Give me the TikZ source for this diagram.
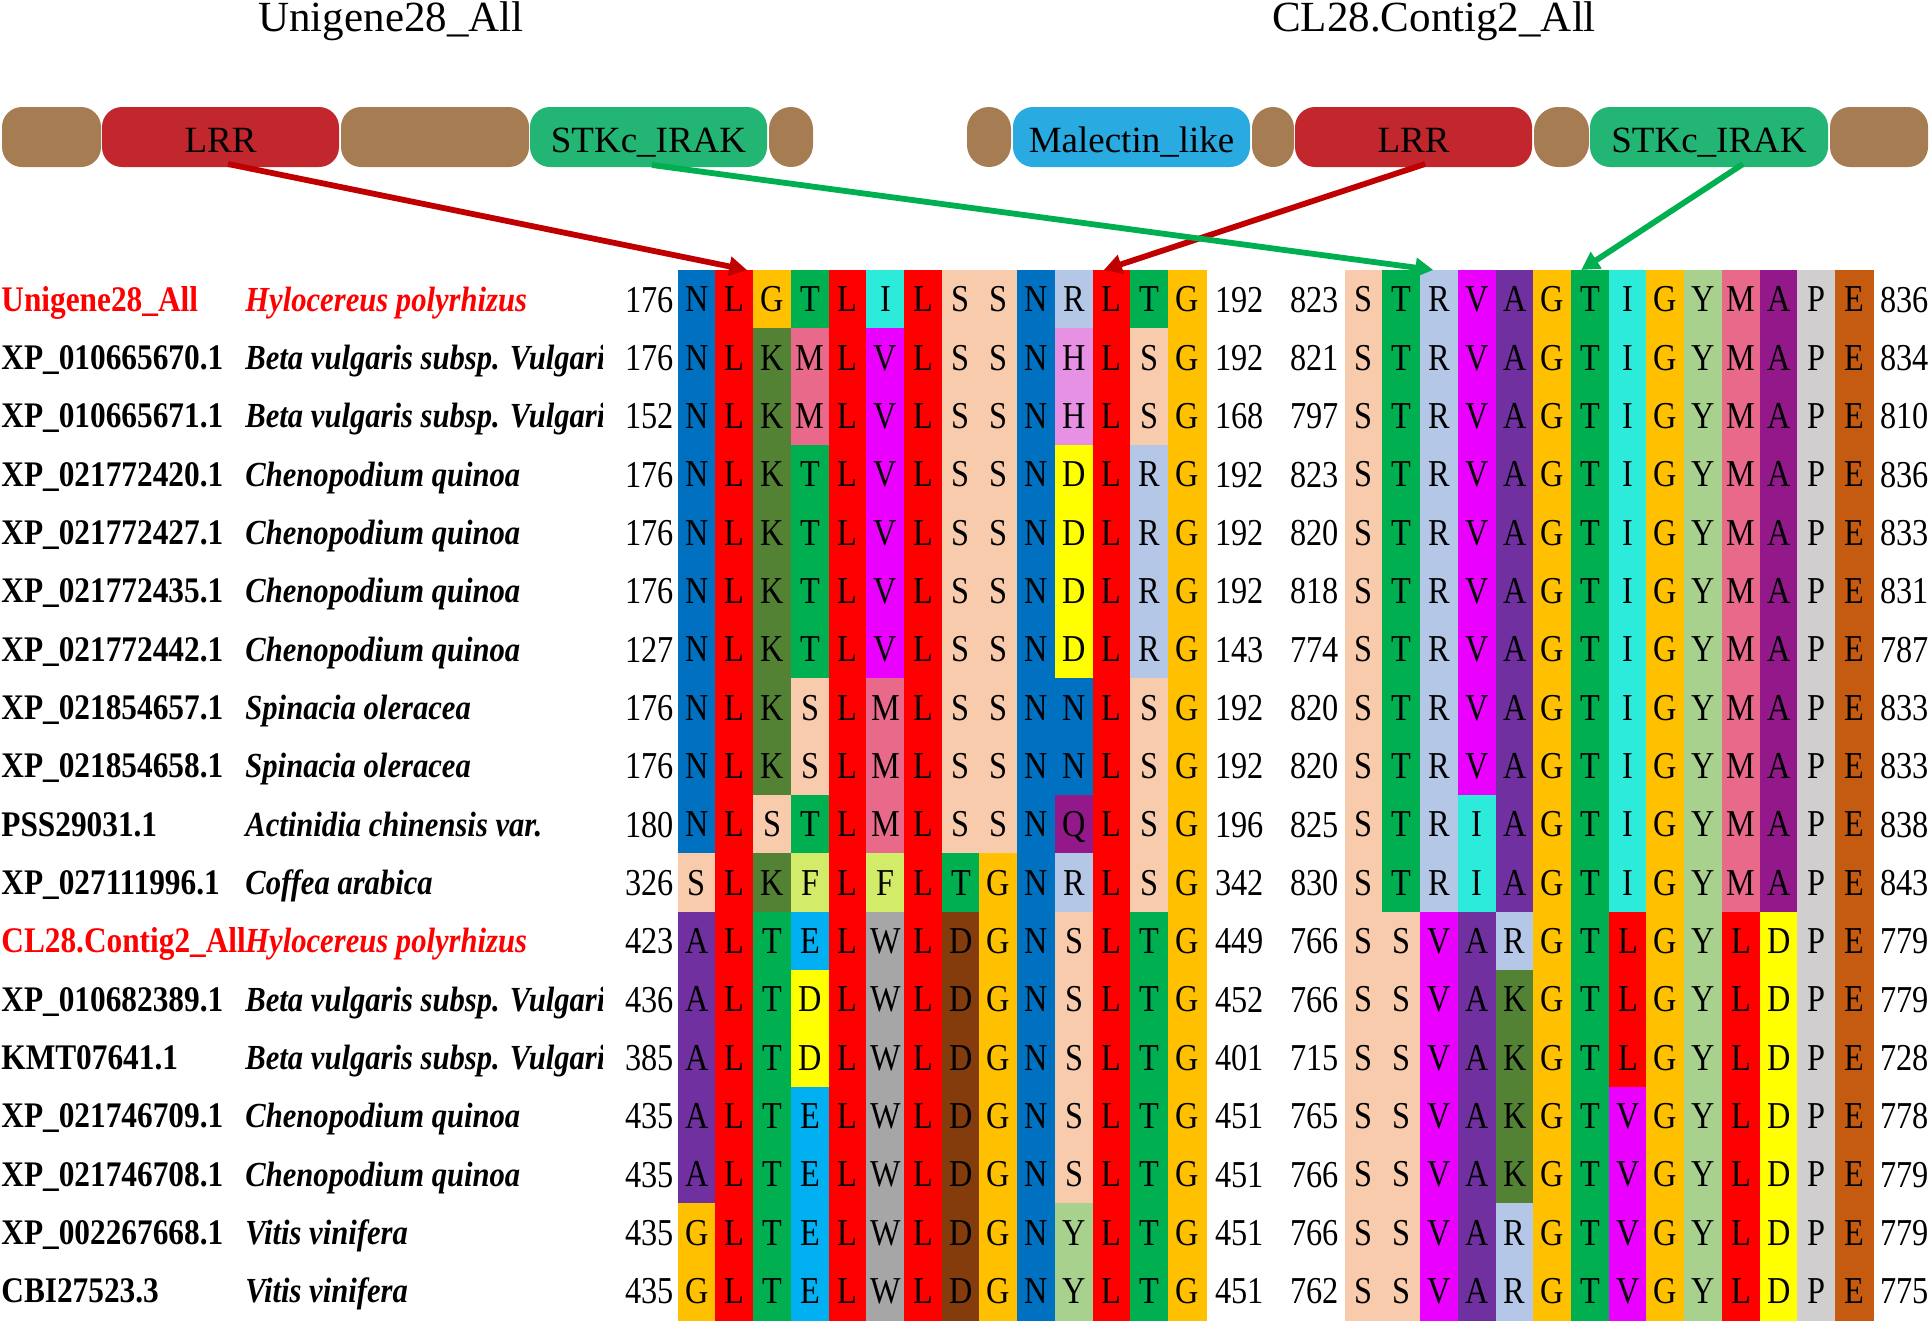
\documentclass[tikz,border=0pt]{standalone}
\usepackage{fontspec}
\setmainfont{Liberation Serif}
\newfontfamily\alnfont[FakeStretch=0.85]{Liberation Serif}
\newfontfamily\labfont[FakeStretch=0.87]{Liberation Serif}
\usetikzlibrary{arrows.meta,calc}

\definecolor{cBrown}{HTML}{A67C52}
\definecolor{cLRR}{HTML}{C1272D}
\definecolor{cSTK}{HTML}{22B573}
\definecolor{cMal}{HTML}{29ABE2}
\definecolor{cArrR}{HTML}{C00000}
\definecolor{cArrG}{HTML}{00B050}
\definecolor{cTxtR}{HTML}{FF0000}

\definecolor{cN}{HTML}{0070C0}
\definecolor{cL}{HTML}{FF0000}
\definecolor{cG}{HTML}{FFC000}
\definecolor{cT}{HTML}{00B050}
\definecolor{cI}{HTML}{2CEBDB}
\definecolor{cS}{HTML}{F8CBAD}
\definecolor{cR}{HTML}{B4C7E7}
\definecolor{cK}{HTML}{548235}
\definecolor{cM}{HTML}{E9698B}
\definecolor{cV}{HTML}{EA00FF}
\definecolor{cH}{HTML}{E691E3}
\definecolor{cD}{HTML}{FFFF00}
\definecolor{cDb}{HTML}{843C0C}
\definecolor{cQ}{HTML}{93198B}
\definecolor{cA}{HTML}{7030A0}
\definecolor{cAm}{HTML}{93198B}
\definecolor{cF}{HTML}{D2EC6A}
\definecolor{cE}{HTML}{00B0F0}
\definecolor{cW}{HTML}{A6A6A6}
\definecolor{cY}{HTML}{A9D18E}
\definecolor{cP}{HTML}{D0CECE}
\definecolor{cEo}{HTML}{C55A11}

\newcommand\alnrow[4]{%
  \foreach \res/\col [count=\ci] in {#4}{%
    \node[cell, fill=\col, draw=\col] (#1-#3-\ci) at ({#2+(\ci-1)*37.72},{270+(#3-1)*58.35}) {\res};
  }%
}
\newcommand\numrow[5]{%
  \pgfmathsetmacro\rowbase{312+(#1-1)*58.35}
  \node[num, anchor=base east] (ns-#1) at (674,\rowbase) {#2};
  \node[num, anchor=base west] (ne-#1) at (1215,\rowbase) {#3};
  \node[num, anchor=base east] (ms-#1) at (1339,\rowbase) {#4};
  \node[num, anchor=base west] (me-#1) at (1880,\rowbase) {#5};
}
\newcommand\labrow[4]{%
  \pgfmathsetmacro\rowbase{311+(#1-1)*58.35}
  \node[acc, text=#2] (acc-#1) at (1,\rowbase) {#3};
  \node[sp, text=#2] (sp-#1) at (245,\rowbase) {#4};
}

\begin{document}
\begin{tikzpicture}[x=0.5pt,y=-0.5pt,
  cell/.style={anchor=north west, minimum width=18.86pt, minimum height=29.18pt,
    inner sep=0pt, outer sep=0pt, line width=0.3pt, text height=14.5pt, text depth=2pt,
    font=\alnfont\fontsize{19}{19}\selectfont},
  num/.style={inner sep=0pt, font=\alnfont\fontsize{19}{19}\selectfont},
  acc/.style={anchor=base west, inner sep=0pt, font=\labfont\bfseries\fontsize{18}{18}\selectfont},
  sp/.style={anchor=base west, inner sep=0pt, font=\labfont\bfseries\itshape\fontsize{17.6}{18}\selectfont},
  dom/.style={rounded corners=10pt, minimum height=30pt, inner sep=0pt, outer sep=0pt,
    text height=15pt, text depth=0pt, font=\fontsize{18.5}{18.5}\selectfont},
  ttl/.style={anchor=base, inner sep=0pt, font=\fontsize{21.5}{21.5}\selectfont},
  arr/.style={line width=2.9pt, -{Triangle[length=9pt,width=9.5pt]}}]
\useasboundingbox (0,0) rectangle (1930,1324);

% titles
\node[ttl] (t1) at (391,31) {Unigene28\_All};
\node[ttl] (t2) at (1434,31) {CL28.Contig2\_All};

% domain bars
\node[dom, fill=cBrown, minimum width=49.5pt] (lb1) at (51.5,137) {};
\node[dom, fill=cLRR, minimum width=118.5pt] (lLRR) at (220.5,137) {LRR};
\node[dom, fill=cBrown, minimum width=94pt] (lb2) at (435,137) {};
\node[dom, fill=cSTK, minimum width=118.5pt] (lSTK) at (648.5,137) {STKc\_IRAK};
\node[dom, fill=cBrown, minimum width=22pt, rounded corners=11pt] (lb3) at (791,137) {};

\node[dom, fill=cBrown, minimum width=22pt, rounded corners=11pt] (rb1) at (989,137) {};
\node[dom, fill=cMal, minimum width=118.5pt] (rMal) at (1131.5,137) {Malectin\_like};
\node[dom, fill=cBrown, minimum width=21pt, rounded corners=10.5pt] (rb2) at (1273,137) {};
\node[dom, fill=cLRR, minimum width=118.5pt] (rLRR) at (1413.5,137) {LRR};
\node[dom, fill=cBrown, minimum width=27.5pt, rounded corners=12pt] (rb3) at (1561.5,137) {};
\node[dom, fill=cSTK, minimum width=119pt] (rSTK) at (1709,137) {STKc\_IRAK};
\node[dom, fill=cBrown, minimum width=49pt] (rb4) at (1879,137) {};

% left alignment block
\alnrow{L}{678}{1}{N/cN,L/cL,G/cG,T/cT,L/cL,I/cI,L/cL,S/cS,S/cS,N/cN,R/cR,L/cL,T/cT,G/cG}
\alnrow{L}{678}{2}{N/cN,L/cL,K/cK,M/cM,L/cL,V/cV,L/cL,S/cS,S/cS,N/cN,H/cH,L/cL,S/cS,G/cG}
\alnrow{L}{678}{3}{N/cN,L/cL,K/cK,M/cM,L/cL,V/cV,L/cL,S/cS,S/cS,N/cN,H/cH,L/cL,S/cS,G/cG}
\alnrow{L}{678}{4}{N/cN,L/cL,K/cK,T/cT,L/cL,V/cV,L/cL,S/cS,S/cS,N/cN,D/cD,L/cL,R/cR,G/cG}
\alnrow{L}{678}{5}{N/cN,L/cL,K/cK,T/cT,L/cL,V/cV,L/cL,S/cS,S/cS,N/cN,D/cD,L/cL,R/cR,G/cG}
\alnrow{L}{678}{6}{N/cN,L/cL,K/cK,T/cT,L/cL,V/cV,L/cL,S/cS,S/cS,N/cN,D/cD,L/cL,R/cR,G/cG}
\alnrow{L}{678}{7}{N/cN,L/cL,K/cK,T/cT,L/cL,V/cV,L/cL,S/cS,S/cS,N/cN,D/cD,L/cL,R/cR,G/cG}
\alnrow{L}{678}{8}{N/cN,L/cL,K/cK,S/cS,L/cL,M/cM,L/cL,S/cS,S/cS,N/cN,N/cN,L/cL,S/cS,G/cG}
\alnrow{L}{678}{9}{N/cN,L/cL,K/cK,S/cS,L/cL,M/cM,L/cL,S/cS,S/cS,N/cN,N/cN,L/cL,S/cS,G/cG}
\alnrow{L}{678}{10}{N/cN,L/cL,S/cS,T/cT,L/cL,M/cM,L/cL,S/cS,S/cS,N/cN,Q/cQ,L/cL,S/cS,G/cG}
\alnrow{L}{678}{11}{S/cS,L/cL,K/cK,F/cF,L/cL,F/cF,L/cL,T/cT,G/cG,N/cN,R/cR,L/cL,S/cS,G/cG}
\alnrow{L}{678}{12}{A/cA,L/cL,T/cT,E/cE,L/cL,W/cW,L/cL,D/cDb,G/cG,N/cN,S/cS,L/cL,T/cT,G/cG}
\alnrow{L}{678}{13}{A/cA,L/cL,T/cT,D/cD,L/cL,W/cW,L/cL,D/cDb,G/cG,N/cN,S/cS,L/cL,T/cT,G/cG}
\alnrow{L}{678}{14}{A/cA,L/cL,T/cT,D/cD,L/cL,W/cW,L/cL,D/cDb,G/cG,N/cN,S/cS,L/cL,T/cT,G/cG}
\alnrow{L}{678}{15}{A/cA,L/cL,T/cT,E/cE,L/cL,W/cW,L/cL,D/cDb,G/cG,N/cN,S/cS,L/cL,T/cT,G/cG}
\alnrow{L}{678}{16}{A/cA,L/cL,T/cT,E/cE,L/cL,W/cW,L/cL,D/cDb,G/cG,N/cN,S/cS,L/cL,T/cT,G/cG}
\alnrow{L}{678}{17}{G/cG,L/cL,T/cT,E/cE,L/cL,W/cW,L/cL,D/cDb,G/cG,N/cN,Y/cY,L/cL,T/cT,G/cG}
\alnrow{L}{678}{18}{G/cG,L/cL,T/cT,E/cE,L/cL,W/cW,L/cL,D/cDb,G/cG,N/cN,Y/cY,L/cL,T/cT,G/cG}

% right alignment block
\foreach \r in {1,...,9}{
  \alnrow{R}{1345}{\r}{S/cS,T/cT,R/cR,V/cV,A/cA,G/cG,T/cT,I/cI,G/cG,Y/cY,M/cM,A/cAm,P/cP,E/cEo}
}
\alnrow{R}{1345}{10}{S/cS,T/cT,R/cR,I/cI,A/cA,G/cG,T/cT,I/cI,G/cG,Y/cY,M/cM,A/cAm,P/cP,E/cEo}
\alnrow{R}{1345}{11}{S/cS,T/cT,R/cR,I/cI,A/cA,G/cG,T/cT,I/cI,G/cG,Y/cY,M/cM,A/cAm,P/cP,E/cEo}
\alnrow{R}{1345}{12}{S/cS,S/cS,V/cV,A/cA,R/cR,G/cG,T/cT,L/cL,G/cG,Y/cY,L/cL,D/cD,P/cP,E/cEo}
\alnrow{R}{1345}{13}{S/cS,S/cS,V/cV,A/cA,K/cK,G/cG,T/cT,L/cL,G/cG,Y/cY,L/cL,D/cD,P/cP,E/cEo}
\alnrow{R}{1345}{14}{S/cS,S/cS,V/cV,A/cA,K/cK,G/cG,T/cT,L/cL,G/cG,Y/cY,L/cL,D/cD,P/cP,E/cEo}
\alnrow{R}{1345}{15}{S/cS,S/cS,V/cV,A/cA,K/cK,G/cG,T/cT,V/cV,G/cG,Y/cY,L/cL,D/cD,P/cP,E/cEo}
\alnrow{R}{1345}{16}{S/cS,S/cS,V/cV,A/cA,K/cK,G/cG,T/cT,V/cV,G/cG,Y/cY,L/cL,D/cD,P/cP,E/cEo}
\alnrow{R}{1345}{17}{S/cS,S/cS,V/cV,A/cA,R/cR,G/cG,T/cT,V/cV,G/cG,Y/cY,L/cL,D/cD,P/cP,E/cEo}
\alnrow{R}{1345}{18}{S/cS,S/cS,V/cV,A/cA,R/cR,G/cG,T/cT,V/cV,G/cG,Y/cY,L/cL,D/cD,P/cP,E/cEo}

% numbers
\numrow{1}{176}{192}{823}{836}
\numrow{2}{176}{192}{821}{834}
\numrow{3}{152}{168}{797}{810}
\numrow{4}{176}{192}{823}{836}
\numrow{5}{176}{192}{820}{833}
\numrow{6}{176}{192}{818}{831}
\numrow{7}{127}{143}{774}{787}
\numrow{8}{176}{192}{820}{833}
\numrow{9}{176}{192}{820}{833}
\numrow{10}{180}{196}{825}{838}
\numrow{11}{326}{342}{830}{843}
\numrow{12}{423}{449}{766}{779}
\numrow{13}{436}{452}{766}{779}
\numrow{14}{385}{401}{715}{728}
\numrow{15}{435}{451}{765}{778}
\numrow{16}{435}{451}{766}{779}
\numrow{17}{435}{451}{766}{779}
\numrow{18}{435}{451}{762}{775}

% labels
\begin{scope}
\clip (0,0) rectangle (602,1324);
\labrow{1}{cTxtR}{Unigene28\_All}{Hylocereus polyrhizus}
\labrow{2}{black}{XP\_010665670.1}{Beta vulgaris subsp. Vulgaris}
\labrow{3}{black}{XP\_010665671.1}{Beta vulgaris subsp. Vulgaris}
\labrow{4}{black}{XP\_021772420.1}{Chenopodium quinoa}
\labrow{5}{black}{XP\_021772427.1}{Chenopodium quinoa}
\labrow{6}{black}{XP\_021772435.1}{Chenopodium quinoa}
\labrow{7}{black}{XP\_021772442.1}{Chenopodium quinoa}
\labrow{8}{black}{XP\_021854657.1}{Spinacia oleracea}
\labrow{9}{black}{XP\_021854658.1}{Spinacia oleracea}
\labrow{10}{black}{PSS29031.1}{Actinidia chinensis var.}
\labrow{11}{black}{XP\_027111996.1}{Coffea arabica}
\labrow{12}{cTxtR}{CL28.Contig2\_All}{Hylocereus polyrhizus}
\labrow{13}{black}{XP\_010682389.1}{Beta vulgaris subsp. Vulgaris}
\labrow{14}{black}{KMT07641.1}{Beta vulgaris subsp. Vulgaris}
\labrow{15}{black}{XP\_021746709.1}{Chenopodium quinoa}
\labrow{16}{black}{XP\_021746708.1}{Chenopodium quinoa}
\labrow{17}{black}{XP\_002267668.1}{Vitis vinifera}
\labrow{18}{black}{CBI27523.3}{Vitis vinifera}
\end{scope}

% arrows
\draw[arr, cArrR] ($(lLRR.south)+(7.5,-3)$) -- ($(L-1-2.north)+(12.5,0)$);
\draw[arr, cArrR] ($(rLRR.south)+(11.5,-3)$) -- ($(L-1-12.north)+(-8,0)$);
\draw[arr, cArrG] ($(lSTK.south)+(3.5,-2)$) -- ($(R-1-3.north)+(-6,0)$);
\draw[arr, cArrG] ($(rSTK.south)+(34,-3)$) -- ($(R-1-7.north)+(-9,0)$);
\end{tikzpicture}
\end{document}
